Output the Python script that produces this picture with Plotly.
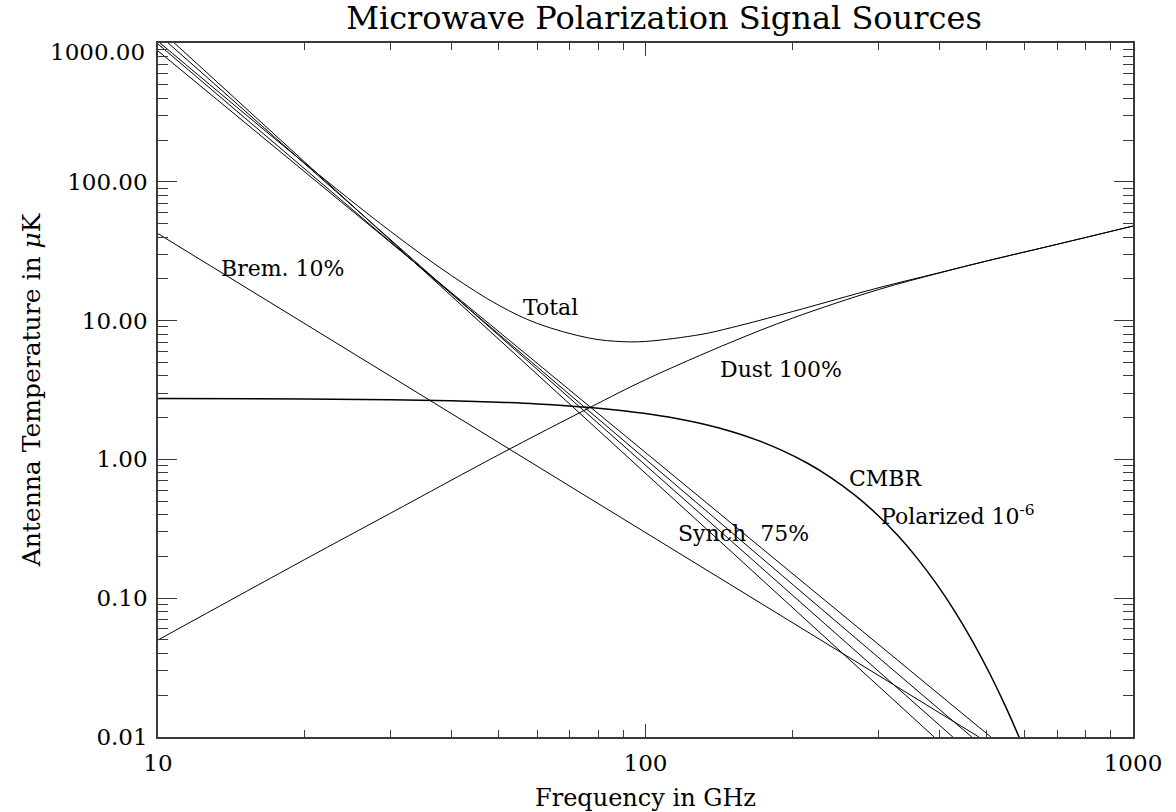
import math
import plotly.graph_objects as go

# ---------------- data (GHz, micro-K) ----------------
synch_names = ["Synch a", "Synch b", "Synch c", "Synch d"]
synch_start_ghz = [10, 10, 10, 10]
synch_start_uk = [876, 984, 1161, 1282]
synch_end_ghz = [511, 467, 427, 391]
synch_end_uk = [0.01, 0.01, 0.01, 0.01]

brem_ghz = [10, 483]
brem_uk = [42.3, 0.01]

dust_ghz = [10, 20, 30, 50, 77, 100, 150, 200, 300, 400, 500, 700, 1000]
dust_uk = [0.050, 0.19, 0.41, 1.08, 2.37, 3.75, 7.0, 10.4, 16.7, 22.0, 26.8, 35.5, 48.0]

total_ghz = [10, 15, 20, 30, 40, 50, 60, 77, 90, 100, 130, 150, 200, 300, 400, 500, 700, 1000]
total_uk = [1029, 313, 136, 43.9, 21.1, 12.9, 9.54, 7.46, 7.05, 7.08, 7.95, 8.9, 11.6, 17.2, 22.1, 26.85, 35.5, 48.0]

cmb_ghz = [10, 20, 30, 40, 50, 60, 77, 90, 100, 115, 130, 150, 170, 190, 215, 240, 270,
           300, 330, 360, 395, 430, 470, 510, 550, 590, 630]
cmb_uk = [2.748, 2.727, 2.692, 2.644, 2.584, 2.512, 2.369, 2.244, 2.141, 1.979, 1.812, 1.588,
          1.371, 1.167, 0.938, 0.740, 0.5456, 0.3944, 0.2801, 0.1961, 0.1273, 0.0814,
          0.04806, 0.02798, 0.01608, 0.009146, 0.005155]

x_ticks = [10, 100, 1000]
x_ticktext = ["10", "100", "1000"]
y_ticks = [0.01, 0.1, 1, 10, 100]
y_ticktext = ["0.01", "0.10", "1.00", "10.00", "100.00"]
y_top_label = "1000.00"

labels = [
    ("Brem. 10%", 18.0, 23.7),
    ("Total", 63.7, 12.4),
    ("Dust 100%", 189.7, 4.44),
    ("CMBR", 311.0, 0.73),
    ("Polarized 10<sup>-6</sup>", 437.0, 0.40),
    ("Synch\u00a0\u00a075%", 159.0, 0.294),
]

FONT = "DejaVu Serif"
INK = "#000000"
AX = "#3a3a3a"

fig = go.Figure()

line = dict(color=INK, width=1)
for n, x0, y0, x1, y1 in zip(synch_names, synch_start_ghz, synch_start_uk, synch_end_ghz, synch_end_uk):
    fig.add_trace(go.Scatter(x=[x0, x1], y=[y0, y1], mode="lines", line=line, name=n))

fig.add_trace(go.Scatter(x=brem_ghz, y=brem_uk, mode="lines", line=line, name="Brem"))
fig.add_trace(go.Scatter(x=dust_ghz, y=dust_uk, mode="lines", line=dict(color=INK, width=1, shape="spline"), name="Dust"))
fig.add_trace(go.Scatter(x=total_ghz, y=total_uk, mode="lines", line=dict(color=INK, width=1, shape="spline"), name="Total"))
fig.add_trace(go.Scatter(x=cmb_ghz, y=cmb_uk, mode="lines", line=dict(color=INK, width=1.5, shape="spline"), name="CMBR"))

annotations = []
for text, xv, yv in labels:
    annotations.append(dict(x=math.log10(xv), y=math.log10(yv), xref="x", yref="y", text=text,
                            showarrow=False, font=dict(family=FONT, size=22, color=INK),
                            xanchor="center", yanchor="middle"))
annotations.append(dict(x=0, y=math.log10(1000), xref="paper", yref="y", text=y_top_label,
                        showarrow=False, font=dict(family=FONT, size=23, color=INK),
                        xanchor="right", yanchor="middle", xshift=-11, yshift=-9))

fig.update_layout(
    width=1176, height=812,
    margin=dict(l=158, r=43, t=43, b=75),
    paper_bgcolor="white", plot_bgcolor="white",
    showlegend=False,
    title=dict(text="Microwave Polarization Signal Sources", x=0.5646, xanchor="center",
               y=1 - 18 / 812, yanchor="middle", yref="container",
               font=dict(family=FONT, size=32, color=INK)),
    annotations=annotations,
    font=dict(family=FONT, size=22, color=INK),
)

fig.update_xaxes(
    type="log", range=[1, 3], showgrid=False, zeroline=False, automargin=False,
    showline=True, linecolor=AX, linewidth=1.5, mirror="allticks",
    ticks="inside", ticklen=13, tickwidth=1, tickcolor=AX,
    tickvals=x_ticks, ticktext=x_ticktext, ticklabelstandoff=5,
    tickfont=dict(family=FONT, size=23, color=INK),
    title=dict(text="Frequency in GHz", font=dict(family=FONT, size=24, color=INK), standoff=14),
    minor=dict(ticks="inside", ticklen=7, tickwidth=1, tickcolor=AX,
               tickvals=[20, 30, 40, 50, 60, 70, 80, 90, 200, 300, 400, 500, 600, 700, 800, 900], showgrid=False),
)
fig.update_yaxes(
    type="log", range=[-2, 3], showgrid=False, zeroline=False, automargin=False,
    showline=True, linecolor=AX, linewidth=1.5, mirror="allticks",
    ticks="inside", ticklen=19, tickwidth=1, tickcolor=AX,
    tickvals=y_ticks, ticktext=y_ticktext, ticklabelstandoff=4,
    tickfont=dict(family=FONT, size=23, color=INK),
    title=dict(text="Antenna Temperature in <i>μ</i>K", font=dict(family=FONT, size=25, color=INK), standoff=19),
    minor=dict(ticks="inside", ticklen=10, tickwidth=1, tickcolor=AX,
               tickvals=[v * m for m in (0.01, 0.1, 1, 10, 100) for v in range(2, 10)], showgrid=False),
)

fig.write_html("out.html")
